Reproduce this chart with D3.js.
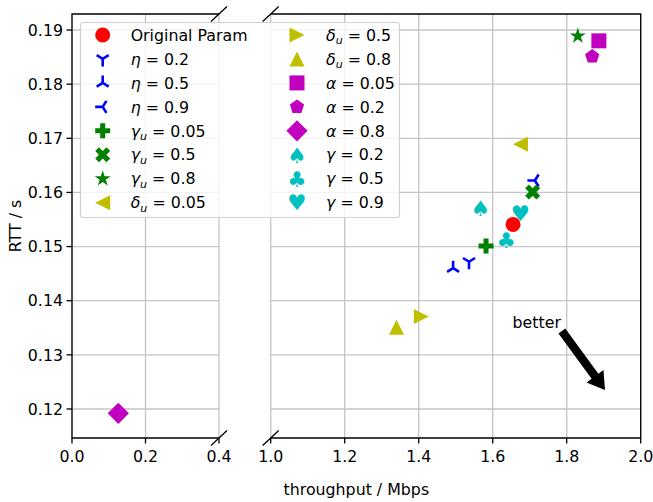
<!DOCTYPE html>
<html><head><meta charset="utf-8">
<script src="https://cdn.jsdelivr.net/npm/d3@7"></script>
<style>body{margin:0;background:#fff} svg{display:block} text{font-family:"DejaVu Sans",sans-serif;fill:#000}</style>
</head><body><svg id="c" width="653" height="502"></svg>
<script>
// ---------------- data ----------------
const paramNames  = ["Original Param","η","η","η","γ","γ","γ","δ","δ","δ","α","α","α","γ","γ","γ"];
const paramSubs   = ["","","","","u","u","u","u","u","u","","","","","",""];
const paramValues = ["","0.2","0.5","0.9","0.05","0.5","0.8","0.05","0.5","0.8","0.05","0.2","0.8","0.2","0.5","0.9"];
const throughput  = [1.655,1.536,1.493,1.714,1.582,1.708,1.830,1.675,1.407,1.340,1.887,1.869,0.126,1.567,1.636,1.675];
const rtt         = [0.1541,0.1472,0.1460,0.1622,0.1501,0.1601,0.1889,0.1689,0.1371,0.1351,0.1880,0.1851,0.1192,0.1571,0.1511,0.1561];
const xTicksLeft  = [0.0,0.2,0.4];
const xTicksRight = [1.0,1.2,1.4,1.6,1.8,2.0];
const yTicks      = [0.12,0.13,0.14,0.15,0.16,0.17,0.18,0.19];
const xLabel = "throughput / Mbps";
const yLabel = "RTT / s";
const annotationText = "better";
const annotationAt = [1.719, 0.1361];
const arrowFrom = [1.787, 0.1344];
const arrowTo   = [1.9035, 0.1235];

// ---------------- styles ----------------
const markerShapes = ["o","1","2","3","P","X","*","<",">","^","s","p","D","spade","club","heart"];
const markerColors = ["#ff0000","#0000ff","#0000ff","#0000ff","#008000","#008000","#008000",
  "#bfbf00","#bfbf00","#bfbf00","#bf00bf","#bf00bf","#bf00bf","#00bfbf","#00bfbf","#00bfbf"];
const MS = 15;
const FS = 15.8;

const svg = d3.select("#c");
const xL = d3.scaleLinear().domain([0,0.4]).range([72,219]);
const xR = d3.scaleLinear().domain([1.0,2.0]).range([270.7,640.7]);
const y  = d3.scaleLinear().domain([0.11464,0.19296]).range([438,14]);
const yTop = 14, yBot = 438;
const xOf = v => v < 0.7 ? xL(v) : xR(v);

function poly(pts){ return "M" + pts.map(p => p[0].toFixed(2)+","+p[1].toFixed(2)).join("L") + "Z"; }
function markerPath(t, s){
  const h = s/2;
  switch(t){
    case "o": return d3.symbol(d3.symbolCircle, Math.PI*h*h)();
    case "s": return poly([[-h,-h],[h,-h],[h,h],[-h,h]]);
    case "D": { const r = h*Math.SQRT2; return poly([[0,-r],[r,0],[0,r],[-r,0]]); }
    case "^": return poly([[0,-h],[h,h],[-h,h]]);
    case ">": return poly([[h,0],[-h,h],[-h,-h]]);
    case "<": return poly([[-h,0],[h,-h],[h,h]]);
    case "p": { const pts=[]; for(let i=0;i<5;i++){const a=-Math.PI/2+i*2*Math.PI/5; pts.push([h*Math.cos(a),h*Math.sin(a)]);} return poly(pts); }
    case "*": { const R=h*1.12; const pts=[]; for(let i=0;i<10;i++){const a=-Math.PI/2+i*Math.PI/5; const r=i%2?R*0.381966:R; pts.push([r*Math.cos(a),r*Math.sin(a)]);} return poly(pts); }
    case "P": return poly([[-1,-3],[1,-3],[1,-1],[3,-1],[3,1],[1,1],[1,3],[-1,3],[-1,1],[-3,1],[-3,-1],[-1,-1]].map(p=>[p[0]/6*s,p[1]/6*s]));
    case "X": return poly([[-1,-2],[0,-1],[1,-2],[2,-1],[1,0],[2,1],[1,2],[0,1],[-1,2],[-2,1],[-1,0],[-2,-1]].map(p=>[p[0]/4*s,p[1]/4*s]));
    case "1": return `M0,0L0,${h}M0,0L${0.8*h},${-0.5*h}M0,0L${-0.8*h},${-0.5*h}`;
    case "2": return `M0,0L0,${-h}M0,0L${0.8*h},${0.5*h}M0,0L${-0.8*h},${0.5*h}`;
    case "3": return `M0,0L${-h},0M0,0L${0.5*h},${0.8*h}M0,0L${0.5*h},${-0.8*h}`;
  }
  return "";
}
const suitChar = {spade:"\u2660", club:"\u2663", heart:"\u2665"};
function drawMarker(g, t, color, cx, cy){
  if (suitChar[t]) {
    g.append("text").attr("x",cx).attr("y",cy).attr("dy","0.36em").attr("text-anchor","middle")
      .attr("font-size",21.5).style("fill",color).text(suitChar[t]);
  } else if (t==="1"||t==="2"||t==="3") {
    g.append("path").attr("transform",`translate(${cx},${cy})`).attr("d",markerPath(t,MS))
      .attr("fill","none").attr("stroke",color).attr("stroke-width",2.6);
  } else {
    g.append("path").attr("transform",`translate(${cx},${cy})`).attr("d",markerPath(t,MS))
      .attr("fill",color);
  }
}

// ---------------- grid ----------------
const grid = svg.append("g").attr("stroke","#c4c4c4").attr("stroke-width",1.3);
xTicksLeft.forEach(v => grid.append("line").attr("x1",xL(v)).attr("x2",xL(v)).attr("y1",yTop).attr("y2",yBot));
xTicksRight.forEach(v => grid.append("line").attr("x1",xR(v)).attr("x2",xR(v)).attr("y1",yTop).attr("y2",yBot));
yTicks.forEach(v => {
  grid.append("line").attr("x1",xL(0)).attr("x2",xL(0.4)).attr("y1",y(v)).attr("y2",y(v));
  grid.append("line").attr("x1",xR(1)).attr("x2",xR(2)).attr("y1",y(v)).attr("y2",y(v));
});

// ---------------- axes ----------------
const ax = svg.append("g").attr("stroke","#000").attr("stroke-width",1.3).attr("fill","none");
ax.append("path").attr("d",`M${xL(0.4)},${yTop}H${xL(0)}V${yBot}H${xL(0.4)}`);
ax.append("path").attr("d",`M${xR(1)},${yTop}H${xR(2)}V${yBot}H${xR(1)}`);
[[xL(0.4),yTop],[xR(1),yTop],[xL(0.4),yBot],[xR(1),yBot]].forEach(([bx,by]) =>
  ax.append("line").attr("x1",bx-8).attr("y1",by+7.5).attr("x2",bx+8).attr("y2",by-7.5));
const tickG = svg.append("g");
function xTick(px, v){
  tickG.append("line").attr("x1",px).attr("x2",px).attr("y1",yBot).attr("y2",yBot+5.5).attr("stroke","#000").attr("stroke-width",1.3);
  tickG.append("text").attr("x",px).attr("y",yBot+24).attr("text-anchor","middle").attr("font-size",FS).text(d3.format(".1f")(v));
}
xTicksLeft.forEach(v => xTick(xL(v), v));
xTicksRight.forEach(v => xTick(xR(v), v));
yTicks.forEach(v => {
  tickG.append("line").attr("x1",xL(0)-5.5).attr("x2",xL(0)).attr("y1",y(v)).attr("y2",y(v)).attr("stroke","#000").attr("stroke-width",1.3);
  tickG.append("text").attr("x",xL(0)-9).attr("y",y(v)).attr("dy","0.36em").attr("text-anchor","end").attr("font-size",FS).text(d3.format(".2f")(v));
});
svg.append("text").attr("x",(xL(0)+xR(2))/2).attr("y",495).attr("text-anchor","middle").attr("font-size",FS).text(xLabel);
svg.append("text").attr("transform",`translate(21,${(yTop+yBot)/2}) rotate(-90)`).attr("text-anchor","middle").attr("font-size",FS).text(yLabel);

// ---------------- points ----------------
const pts = svg.append("g");
throughput.forEach((tv,i) => drawMarker(pts, markerShapes[i], markerColors[i], xOf(tv), y(rtt[i])));

// ---------------- annotation ----------------
svg.append("text").attr("x",xR(annotationAt[0])).attr("y",y(annotationAt[1])).attr("dy","0.36em")
  .attr("text-anchor","middle").attr("font-size",FS).text(annotationText);
(function(){
  const x0=xR(arrowFrom[0]), y0=y(arrowFrom[1]), x1=xR(arrowTo[0]), y1=y(arrowTo[1]);
  const dx=x1-x0, dy=y1-y0, L=Math.hypot(dx,dy), ux=dx/L, uy=dy/L, nx=-uy, ny=ux;
  const sw=4.2, hw=10.5, hl=17;
  const bx=x1-ux*hl, by=y1-uy*hl;
  svg.append("path").attr("fill","#000").attr("d", poly([
    [x0+nx*sw,y0+ny*sw],[bx+nx*sw,by+ny*sw],[bx+nx*hw,by+ny*hw],[x1,y1],
    [bx-nx*hw,by-ny*hw],[bx-nx*sw,by-ny*sw],[x0-nx*sw,y0-ny*sw]]));
})();

// ---------------- legend ----------------
const lg = svg.append("g");
lg.append("rect").attr("x",80.5).attr("y",22.5).attr("width",319).attr("height",195).attr("rx",3)
  .attr("fill","#fff").attr("fill-opacity",0.8).attr("stroke","#d0d0d0").attr("stroke-width",1.2);
const rows = 8, rowH = 23.96, row0 = 35;
paramNames.forEach((nm,i) => {
  const col = Math.floor(i/rows), r = i%rows;
  const mx = col ? 297 : 102.7, tx = col ? 326 : 130.7, ry = row0 + r*rowH;
  drawMarker(lg, markerShapes[i], markerColors[i], mx, ry);
  const t = lg.append("text").attr("x",tx).attr("y",ry).attr("dy","0.36em").attr("font-size",FS);
  if (!paramValues[i]) { t.text(nm); return; }
  t.append("tspan").attr("font-style","italic").text(nm);
  if (paramSubs[i]) t.append("tspan").attr("font-style","italic").attr("font-size",FS*0.7).attr("dy","0.3em").text(paramSubs[i]);
  t.append("tspan").attr("dy", paramSubs[i] ? (-0.3*0.7)+"em" : null).attr("xml:space","preserve").text("\u00a0= " + paramValues[i]);
});
</script></body></html>
